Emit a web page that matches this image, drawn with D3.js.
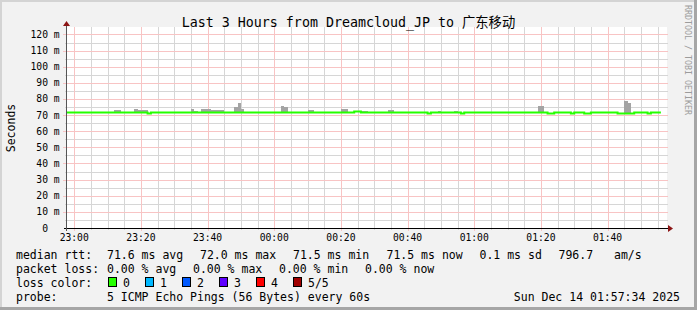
<!DOCTYPE html>
<html>
<head>
<meta charset="utf-8">
<script src="https://cdn.jsdelivr.net/npm/d3@7"></script>
<style>
  html, body { margin: 0; padding: 0; background: #f2f2f2; }
  svg { display: block; }
  text { font-family: "DejaVu Sans Mono", "Noto Sans CJK SC", monospace; white-space: pre; }
</style>
</head>
<body>
<div id="main"></div>
<script>
// window of the graph (RRD end time rounded)
const rangeStart = new Date(2025, 11, 13, 22, 57, 50);
const rangeEnd = new Date(2025, 11, 14, 1, 57, 50);

// median rtt in ms, one value per minute starting 22:57
const firstSample = new Date(2025, 11, 13, 22, 57, 0);
const medianRtt = [
    71.6, 71.6, 71.6, 71.6, 71.6, 71.6, 71.6, 71.6, 71.6, 71.6, // 22:57
    71.6, 71.6, 71.6, 71.6, 71.6, 71.6, 71.6, 71.6, 71.6, 71.6, // 23:07
    71.6, 71.6, 71.6, 71.6, 71.6, 71.0, 71.6, 71.6, 71.6, 71.6, // 23:17
    71.6, 71.6, 71.6, 71.6, 71.6, 71.6, 71.6, 71.6, 71.6, 71.6, // 23:27
    71.6, 71.6, 71.6, 71.6, 71.6, 71.6, 71.6, 71.6, 71.6, 71.6, // 23:37
    71.6, 71.6, 71.6, 71.6, 71.6, 71.6, 71.6, 71.6, 71.6, 71.6, // 23:47
    71.6, 71.6, 71.6, 71.6, 71.6, 71.6, 71.6, 71.6, 71.6, 71.6, // 23:57
    71.6, 71.6, 71.6, 71.6, 71.6, 71.6, 71.6, 71.6, 71.6, 71.6, // 00:07
    71.6, 71.6, 71.6, 71.6, 71.6, 71.6, 71.6, 72.3, 72.3, 71.6, // 00:17
    71.6, 71.6, 71.6, 71.6, 71.6, 71.6, 71.6, 71.6, 71.6, 71.6, // 00:27
    71.6, 71.6, 71.6, 71.6, 71.6, 71.6, 71.6, 71.6, 71.6, 71.0, // 00:37
    71.6, 71.6, 71.6, 71.6, 71.6, 71.6, 71.6, 71.6, 71.6, 71.0, // 00:47
    71.6, 71.6, 71.6, 71.6, 71.6, 71.6, 71.6, 71.6, 71.6, 71.6, // 00:57
    71.6, 71.6, 71.6, 71.6, 71.6, 71.6, 71.6, 71.6, 71.6, 71.6, // 01:07
    71.6, 71.6, 71.6, 71.6, 71.6, 71.0, 71.0, 71.6, 71.6, 71.6, // 01:17
    71.6, 71.6, 71.0, 71.6, 71.6, 71.6, 71.0, 71.0, 71.6, 71.6, // 01:27
    71.6, 71.6, 71.6, 71.6, 71.6, 71.6, 71.0, 71.0, 71.0, 71.0, // 01:37
    71.0, 71.6, 71.6, 71.6, 71.6, 71.0, 71.6, 71.6, 71.6        // 01:47
];

// smoke (highest ping) where it rises above the median
const smokeMinutes = ['23:12', '23:13', '23:18', '23:19', '23:20', '23:21', '23:35', '23:36',
    '23:38', '23:39', '23:40', '23:41', '23:42', '23:43', '23:44', '23:48', '23:49', '23:50',
    '00:02', '00:03', '00:10', '00:11', '00:20', '00:21', '00:24', '00:25', '00:26', '00:27',
    '00:34', '00:35', '00:49', '00:54', '01:19', '01:20', '01:45', '01:46'];
const smokeTopMs = [73.0, 73.0, 73.6, 73.4, 73.4, 73.4, 73.6, 72.8,
    73.6, 74.0, 74.0, 73.4, 73.4, 73.0, 73.0, 74.9, 77.2, 74.0,
    75.9, 75.3, 73.4, 73.4, 74.0, 74.0, 72.8, 72.8, 72.8, 72.8,
    73.4, 73.4, 72.8, 72.8, 75.9, 75.9, 78.6, 77.8];

const yTickValues = [0, 10, 20, 30, 40, 50, 60, 70, 80, 90, 100, 110, 120];
const yMinorValues = [5, 15, 25, 35, 45, 55, 65, 75, 85, 95, 105, 115];

const legendStats = [
    ['median rtt:', 16], ['71.6 ms avg', 107], ['72.0 ms max', 200], ['71.5 ms min', 293],
    ['71.5 ms now', 386.5], ['0.1 ms sd', 479.5], ['796.7', 558.5], ['am/s', 614]
];
const legendLoss = [
    ['packet loss:', 16], ['0.00 % avg', 107], ['0.00 % max', 193], ['0.00 % min', 279], ['0.00 % now', 365]
];
const lossLabels = ['0', '1', '2', '3', '4', '5/5'];
const lossColors = ['#26ff00', '#00b8ff', '#0059ff', '#5e00ff', '#ff0000', '#a00000'];

const W = 697, H = 310;
const PL = 67, PR = 667, PT = 28, PB = 228;

const svg = d3.select('#main').append('svg').attr('width', W).attr('height', H);

// frame
svg.append('rect').attr('x', 0).attr('y', 0).attr('width', W).attr('height', H).attr('fill', '#f2f2f2');
svg.append('rect').attr('x', 0).attr('y', 0).attr('width', W).attr('height', 2).attr('fill', '#d4d4d4');
svg.append('rect').attr('x', 0).attr('y', 0).attr('width', 2).attr('height', H).attr('fill', '#d4d4d4');
svg.append('rect').attr('x', 0).attr('y', H - 3).attr('width', W).attr('height', 3).attr('fill', '#a6a6a6');
svg.append('rect').attr('x', W - 3).attr('y', 0).attr('width', 3).attr('height', H).attr('fill', '#a6a6a6');

const x = d3.scaleTime().domain([rangeStart, rangeEnd]).range([PL, PR]);
const y = d3.scaleLinear().domain([0, 124]).range([PB, PT]);
const px = (v) => Math.round(v) + 0.5;

svg.append('rect').attr('x', PL).attr('y', PT - 1).attr('width', PR - PL).attr('height', PB - PT + 1).attr('fill', '#ffffff');

// grid (dotted lines drawn as their blended tone)
const minorTimes = x.ticks(d3.timeMinute.every(5)).filter((t) => t.getMinutes() % 20 !== 0);
const majorTimes = x.ticks(d3.timeMinute.every(20));
const minorGrid = svg.append('g').attr('stroke', '#d6d6d6').attr('stroke-width', 1);
minorGrid.selectAll('line.hminor').data(yMinorValues).enter().append('line').attr('class', 'hminor')
    .attr('x1', PL - 2).attr('x2', PR + 1).attr('y1', (d) => px(y(d))).attr('y2', (d) => px(y(d)));
minorGrid.selectAll('line.vminor').data(minorTimes).enter().append('line').attr('class', 'vminor')
    .attr('x1', (d) => px(x(d))).attr('x2', (d) => px(x(d))).attr('y1', PT - 1).attr('y2', PB + 2);
const majorGrid = svg.append('g').attr('stroke', '#f8c4c4').attr('stroke-width', 1);
majorGrid.selectAll('line.hmajor').data(yTickValues.slice(1)).enter().append('line').attr('class', 'hmajor')
    .attr('x1', PL - 4).attr('x2', PR + 1).attr('y1', (d) => px(y(d))).attr('y2', (d) => px(y(d)));
majorGrid.selectAll('line.vmajor').data(majorTimes).enter().append('line').attr('class', 'vmajor')
    .attr('x1', (d) => px(x(d))).attr('x2', (d) => px(x(d))).attr('y1', PT - 1).attr('y2', PB + 3);

// smoke
const toDate = (hm) => {
    const [h, m] = hm.split(':').map(Number);
    return new Date(2025, 11, h >= 22 ? 13 : 14, h, m, 0);
};
const sampleIndex = (t) => Math.round((t - firstSample) / 60000);
const smoke = smokeMinutes.map((hm, i) => {
    const t = toDate(hm);
    return { t0: t, t1: d3.timeMinute.offset(t, 1), top: smokeTopMs[i], base: medianRtt[sampleIndex(t)] };
});
svg.append('g').selectAll('rect').data(smoke).enter().append('rect')
    .attr('x', (d) => x(d.t0)).attr('width', (d) => x(d.t1) - x(d.t0))
    .attr('y', (d) => y(d.top)).attr('height', (d) => y(d.base) - y(d.top))
    .attr('fill', '#a4a4a4').attr('shape-rendering', 'crispEdges');

// median line, coloured by loss (0 everywhere)
const medianPoints = medianRtt.map((v, i) => [d3.timeMinute.offset(firstSample, i), v]);
medianPoints.push([d3.timeMinute.offset(firstSample, medianRtt.length), medianRtt[medianRtt.length - 1]]);
svg.append('clipPath').attr('id', 'plotclip').append('rect')
    .attr('x', PL).attr('y', PT).attr('width', PR - PL).attr('height', PB - PT);
svg.append('path').datum(medianPoints)
    .attr('clip-path', 'url(#plotclip)')
    .attr('d', d3.line().x((d) => x(d[0])).y((d) => y(d[1])).curve(d3.curveStepAfter))
    .attr('fill', 'none').attr('stroke', lossColors[0]).attr('stroke-width', 2);

// axes
svg.append('line').attr('x1', PL - 3).attr('x2', PR + 1).attr('y1', PB + 0.5).attr('y2', PB + 0.5)
    .attr('stroke', '#000000');
svg.append('line').attr('x1', PL - 0.5).attr('x2', PL - 0.5).attr('y1', PT - 2).attr('y2', PB + 3)
    .attr('stroke', '#555555');
svg.append('path').attr('d', `M${PR + 6},${PB + 0.5} L${PR + 1},${PB - 3} L${PR + 1},${PB + 4} Z`).attr('fill', '#8c1515');
svg.append('path').attr('d', `M${PL - 0.5},${PT - 7} L${PL - 4},${PT - 2} L${PL + 3},${PT - 2} Z`).attr('fill', '#8c1515');

// tick labels
const fmtY = (d) => (d === 0 ? '  0  ' : `${String(d).padStart(3, ' ')} m`);
svg.append('g').selectAll('text').data(yTickValues).enter().append('text')
    .attr('x', 30.5).attr('y', (d) => y(d) + 3.5)
    .attr('font-size', 9.7).attr('fill', '#000').text(fmtY);
svg.append('g').selectAll('text').data(majorTimes).enter().append('text')
    .attr('x', (d) => x(d)).attr('y', 241).attr('text-anchor', 'middle')
    .attr('font-size', 9.7).attr('fill', '#000').text(d3.timeFormat('%H:%M'));

// titles
svg.append('text').attr('x', W / 2).attr('y', 26.5).attr('text-anchor', 'middle')
    .attr('font-size', 13.3).attr('fill', '#000').text('Last 3 Hours from Dreamcloud_JP to 广东移动');
svg.append('text').attr('transform', `translate(15,${(PT + PB) / 2}) rotate(-90)`).attr('text-anchor', 'middle')
    .attr('font-size', 11.5).attr('fill', '#000').text('Seconds');
svg.append('text').attr('transform', 'translate(685,5) rotate(90)')
    .attr('font-size', 8.3).attr('fill', '#9c9c9c').text('RRDTOOL / TOBI OETIKER');

// legend
const legend = svg.append('g').attr('font-size', 11.5).attr('fill', '#000');
legend.selectAll('text.stat').data(legendStats).enter().append('text').attr('class', 'stat')
    .attr('x', (d) => d[1]).attr('y', 258.5).text((d) => d[0]);
legend.selectAll('text.loss').data(legendLoss).enter().append('text').attr('class', 'loss')
    .attr('x', (d) => d[1]).attr('y', 272.5).text((d) => d[0]);
legend.append('text').attr('x', 16).attr('y', 286.5).text('loss color:');
legend.selectAll('rect.box').data(lossColors).enter().append('rect').attr('class', 'box')
    .attr('x', (d, i) => 108.5 + i * 37).attr('y', 277.5).attr('width', 8).attr('height', 9)
    .attr('fill', (d) => d).attr('stroke', '#000').attr('stroke-width', 1);
legend.selectAll('text.lc').data(lossLabels).enter().append('text').attr('class', 'lc')
    .attr('x', (d, i) => 123 + i * 37).attr('y', 286.5).text((d) => d);
legend.append('text').attr('x', 16).attr('y', 300.5).text('probe:');
legend.append('text').attr('x', 107).attr('y', 300.5).text('5 ICMP Echo Pings (56 Bytes) every 60s');
legend.append('text').attr('x', 680).attr('y', 300.5).attr('text-anchor', 'end').text('Sun Dec 14 01:57:34 2025');
</script>
</body>
</html>
